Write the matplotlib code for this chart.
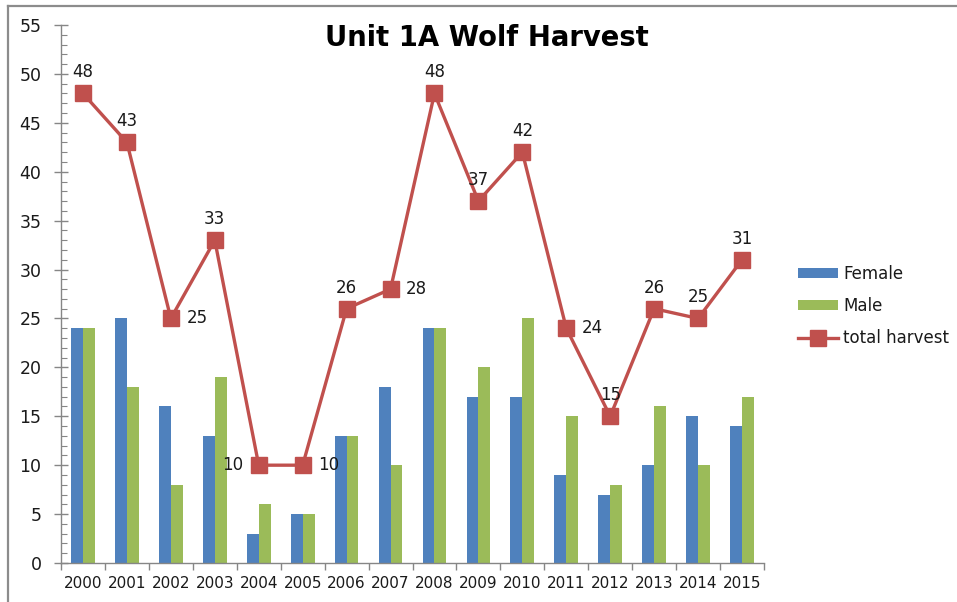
import matplotlib
matplotlib.use("Agg")
import matplotlib.pyplot as plt
from matplotlib.lines import Line2D
from matplotlib.ticker import MultipleLocator, FixedLocator
import numpy as np

years = ["2000", "2001", "2002", "2003", "2004", "2005", "2006", "2007",
         "2008", "2009", "2010", "2011", "2012", "2013", "2014", "2015"]
female = [24, 25, 16, 13, 3, 5, 13, 18, 24, 17, 17, 9, 7, 10, 15, 14]
male = [24, 18, 8, 19, 6, 5, 13, 10, 24, 20, 25, 15, 8, 16, 10, 17]
total = [48, 43, 25, 33, 10, 10, 26, 28, 48, 37, 42, 24, 15, 26, 25, 31]
label_pos = ["top", "top", "right", "top", "left", "right", "top", "right",
             "top", "top", "top", "right", "top", "top", "top", "top"]

BLUE = "#4F81BD"
GREEN = "#9BBB59"
RED = "#C0504D"
AXC = "#868686"
TXT = "#1a1a1a"

plt.rcParams['font.family'] = ['DejaVu Sans']
fig = plt.figure(figsize=(9.57, 6.02), dpi=100)
ax = fig.add_axes([61/957, 1-563/602, (764-61)/957, (563-25)/602])

x = np.arange(len(years))
w = 0.27
b1 = ax.bar(x - w/2, female, width=w, color=BLUE, label="Female", zorder=2)
b2 = ax.bar(x + w/2, male, width=w, color=GREEN, label="Male", zorder=2)
ln, = ax.plot(x, total, color=RED, lw=2.4, marker="s", ms=11, mfc=RED, mec=RED,
              label="total harvest", zorder=3)

offsets = {"top": (0, 21), "right": (26, 0), "left": (-26, 0)}
for xi, v, p in zip(x, total, label_pos):
    dx, dy = offsets[p]
    ax.annotate(str(v), (xi, v), xytext=(dx, dy), textcoords="offset pixels",
                ha="center", va="center", fontsize=12, color=TXT, zorder=4)

ax.set_xlim(-0.5, len(years) - 0.5)
ax.set_ylim(0, 55)
ax.yaxis.set_major_locator(MultipleLocator(5))
ax.yaxis.set_minor_locator(MultipleLocator(1))
ax.set_xticks(x)
ax.set_xticklabels(years)
ax.xaxis.set_minor_locator(FixedLocator(np.arange(-0.5, len(years), 1.0)))
ax.tick_params(axis="x", which="major", length=0, pad=9, labelsize=11, labelcolor=TXT)
ax.tick_params(axis="x", which="minor", length=5, width=1, color=AXC, direction="out")
ax.tick_params(axis="y", which="major", length=10, width=1, color=AXC, direction="inout",
               labelsize=12.5, labelcolor=TXT, pad=9)
ax.tick_params(axis="y", which="minor", length=4, width=0.8, color=AXC, direction="in")
for s in ["top", "right"]:
    ax.spines[s].set_visible(False)
for s in ["left", "bottom"]:
    ax.spines[s].set_color(AXC)
    ax.spines[s].set_linewidth(1)

fig.text(487/957, 1-38/602, "Unit 1A Wolf Harvest", ha="center", va="center",
         fontsize=19.8, fontweight="bold", color="black")

leg = fig.legend([b1, b2, ln], ["Female", "Male", "total harvest"],
                 loc="center left", bbox_to_anchor=(783/957, 1-306/602), frameon=False,
                 fontsize=12, handlelength=2.4, handleheight=0.5, labelspacing=0.85,
                 handletextpad=0.3)
for t in leg.get_texts():
    t.set_color(TXT)

fig.add_artist(Line2D([8/957, 8/957], [0, 1-6/602], transform=fig.transFigure,
                      color="#8c8c8c", lw=1.6))
fig.add_artist(Line2D([8/957, 1], [1-6/602, 1-6/602], transform=fig.transFigure,
                      color="#8c8c8c", lw=1.6))

fig.savefig("out.png", dpi=100)
